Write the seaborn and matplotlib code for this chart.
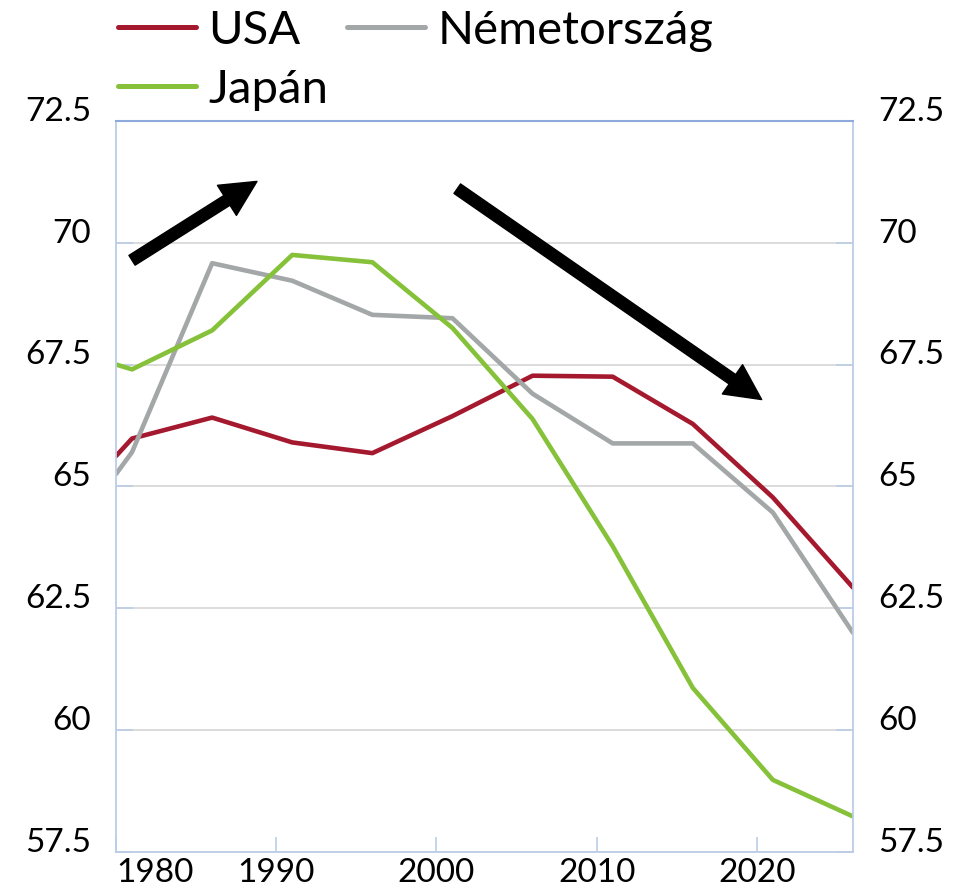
#%% bibliotecas
import pandas as pd
import seaborn as sns
import matplotlib.pyplot as plt
from matplotlib.lines import Line2D

#%% dados
years = [1980, 1981, 1986, 1991, 1996, 2001, 2006, 2011, 2016, 2021, 2026]
usa = [65.62, 65.98, 66.41, 65.90, 65.68, 66.44, 67.27, 67.25, 66.28, 64.77, 62.92]
nemetorszag = [65.25, 65.70, 69.58, 69.22, 68.52, 68.45, 66.90, 65.88, 65.88, 64.46, 61.99]
japan = [67.50, 67.40, 68.20, 69.75, 69.60, 68.25, 66.38, 63.77, 60.86, 58.97, 58.22]

countries = ['USA', 'Németország', 'Japán']
colors = ['#A5192F', '#A3A7A7', '#86C13A']

xticks = [1980, 1990, 2000, 2010, 2020]
yticks = [57.5, 60, 62.5, 65, 67.5, 70, 72.5]
ytick_labels = ['57.5', '60', '62.5', '65', '67.5', '70', '72.5']

# setas (cauda, ponta)
arrow_up = [(1981.0, 69.64), (1988.8, 71.26)]
arrow_down = [(2001.3, 71.11), (2020.3, 66.78)]

df = pd.DataFrame({
    'year': years * 3,
    'value': usa + nemetorszag + japan,
    'country': [c for c in countries for _ in years],
})

#%% gráfico
sns.set_style('white')
plt.rcParams['font.family'] = ['Lato', 'DejaVu Sans']

fig = plt.figure(figsize=(9.54, 8.9), dpi=100)
ax = fig.add_axes([116 / 954, 1 - 851.5 / 890, (853 - 116) / 954, (851.5 - 121) / 890])

sns.lineplot(data=df, x='year', y='value', hue='country', hue_order=countries,
             palette=colors, lw=3.3, ax=ax, legend=False)

ax.set_xlim(1980, 2026)
ax.set_ylim(57.5, 72.5)
ax.set_xlabel('')
ax.set_ylabel('')

ax.set_xticks(xticks)
ax.set_xticklabels([str(x) for x in xticks])
ax.set_yticks(yticks)
ax.set_yticklabels(ytick_labels)

axis_blue = '#BCCDE8'
ax.tick_params(axis='y', direction='in', length=12, width=1.2, color=axis_blue,
               left=True, right=True, labelleft=True, labelright=True,
               labelsize=24, pad=18, labelcolor='black')
ax.tick_params(axis='x', direction='in', length=11, width=1.2, color=axis_blue,
               bottom=True, labelsize=24, pad=4.5, labelcolor='black')

for tick in ax.yaxis.get_major_ticks():
    tick.label1.set_va('baseline')
    tick.label2.set_va('baseline')
ax.get_xticklabels()[0].set_ha('left')

ax.grid(axis='y', color='#D9D9D9', lw=1.3)
ax.grid(axis='x', visible=False)
ax.set_axisbelow(True)
for side in ['left', 'right', 'bottom']:
    ax.spines[side].set_color(axis_blue)
    ax.spines[side].set_linewidth(1.3)
ax.spines['top'].set_color('#8EA9DB')
ax.spines['top'].set_linewidth(1.5)

# setas
for tail, tip in [arrow_up, arrow_down]:
    ax.annotate('', xy=tip, xytext=tail, annotation_clip=False,
                arrowprops=dict(arrowstyle='simple,head_length=2.56,head_width=2.56,tail_width=0.83',
                                mutation_scale=10, color='black', shrinkA=0, shrinkB=0))

# legenda (USA e Japán na primeira coluna)
order = [0, 2, 1]
handles = [Line2D([], [], color=colors[i], lw=3.6) for i in order]
labels = [countries[i] for i in order]
fig.legend(handles, labels, loc='upper left', bbox_to_anchor=(118 / 954, 1 - 10 / 890),
           ncol=2, frameon=False, fontsize=34, handlelength=1.65, handletextpad=0.26,
           columnspacing=0.4, labelspacing=0.36, borderpad=0, borderaxespad=0,
           labelcolor='black')

fig.savefig('out.png', dpi=100)
